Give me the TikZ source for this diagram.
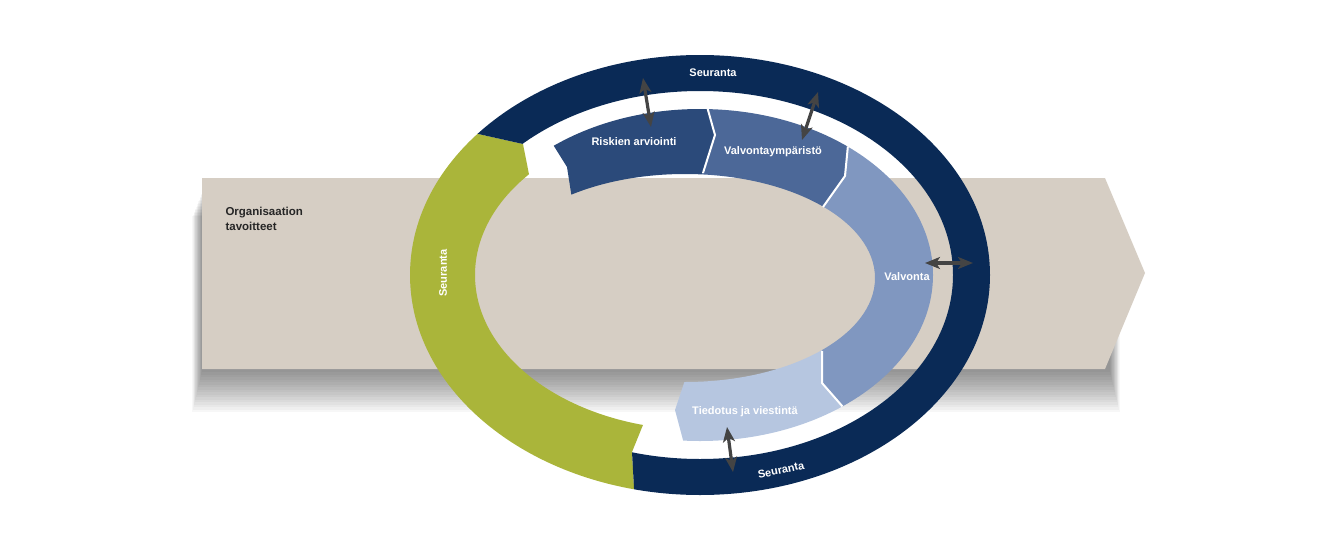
\documentclass[tikz,border=0pt]{standalone}
\usepackage{fontspec}
\setmainfont{Liberation Sans}
\usetikzlibrary{arrows.meta}

\definecolor{navy}{RGB}{10,42,86}
\definecolor{ringgreen}{RGB}{170,181,58}
\definecolor{sand}{RGB}{214,206,196}
\definecolor{riskblue}{RGB}{43,74,122}
\definecolor{envblue}{RGB}{76,104,152}
\definecolor{ctrlblue}{RGB}{128,151,192}
\definecolor{infoblue}{RGB}{182,198,224}
\definecolor{arrowgray}{RGB}{68,68,68}

\tikzset{
  band/.style={insert path={(c) ellipse[x radius=233,y radius=166]
                            (h) ellipse[x radius=190,y radius=104]}},
  lbl/.style={text=white,font=\bfseries\fontsize{11}{13}\selectfont},
  link/.style={<->,draw=arrowgray,line width=3.2pt},
  sep/.style={white,line width=2pt}
}

\begin{document}
\begin{tikzpicture}[x=1pt,y=-1pt,>={Stealth[length=15pt,width=12pt,inset=4pt]}]
\useasboundingbox (0,0) rectangle (1331,554);
\coordinate (c) at (700,275);
\coordinate (h) at (685,278);

% soft shadow under the goal arrow
\foreach \s in {0,...,16}
  \fill[black,opacity=.03] (202-0.6*\s,192+1.5*\s) rectangle (1110+0.6*\s,372+2.5*\s);
\fill[sand] (202,178) -- (1105,178) -- (1145,273) -- (1105,369) -- (202,369) -- cycle;
\node[font=\bfseries\fontsize{11.5}{15}\selectfont,align=left,anchor=west,text=black!85]
  (goal) at (222,218.5) {Organisaation\\tavoitteet};

% green part of the monitoring ring
\begin{scope}
\clip (380,112) -- (523,144) -- (540,230) -- (660,383) -- (632,452) -- (638,560)
      -- (300,560) -- (300,112) -- cycle;
\fill[ringgreen,even odd rule] (c) ellipse[x radius=290,y radius=220]
                               (c) ellipse[x radius=225,y radius=155];
\end{scope}

% dark part of the monitoring ring
\begin{scope}
\clip (380,112) -- (523,144) -- (540,230) -- (660,383) -- (632,452) -- (638,560)
      -- (1100,560) -- (1100,0) -- (380,0) -- cycle;
\fill[navy,even odd rule] (c) ellipse[x radius=290,y radius=220]
                          (c) ellipse[x radius=253,y radius=184];
\end{scope}

% inner process segments
\begin{scope}
\clip (537,119) -- (567,167) -- (577,231) -- (691,209) -- (715,135) -- (701,85) -- cycle;
\fill[riskblue,even odd rule,band];
\end{scope}
\begin{scope}
\clip (701,85) -- (715,135) -- (691,209) -- (811,224) -- (845,176) -- (851,114) -- cycle;
\fill[envblue,even odd rule,band];
\end{scope}
\begin{scope}
\clip (851,114) -- (845,176) -- (811,224) -- (822,317) -- (822,383) -- (864,431)
      -- (1000,431) -- (1000,90) -- cycle;
\fill[ctrlblue,even odd rule,band];
\end{scope}
\begin{scope}
\clip (822,317) -- (822,383) -- (864,431) -- (691,470) -- (675,410) -- (695,350) -- cycle;
\fill[infoblue,even odd rule,band];
\end{scope}
\begin{scope}
\clip (c) ellipse[x radius=233,y radius=166];
\draw[sep] (701,85) -- (715,135) -- (703,173);
\draw[sep] (851,114) -- (845,176) -- (823,207);
\draw[sep] (822,351) -- (822,383) -- (864,431);
\end{scope}

% labels
\node[lbl] (mtop) at (713,73) {Seuranta};
\node[lbl,rotate=90] (mleft) at (443,273) {Seuranta};
\node[lbl,rotate=12] (mbot) at (781,470) {Seuranta};
\node[lbl] (risk) at (634,142) {Riskien arviointi};
\node[lbl] (env) at (773,152) {Valvontaympäristö};
\node[lbl] (ctrl) at (907,277) {Valvonta};
\node[lbl] (info) at (745,412) {Tiedotus ja viestintä};

% links between ring and segments
\coordinate (a1) at (643,78);  \coordinate (b1) at (651,127);
\coordinate (a2) at (818,92);  \coordinate (b2) at (802,140);
\coordinate (a3) at (925,263); \coordinate (b3) at (973,263);
\coordinate (a4) at (727,427); \coordinate (b4) at (733,472);
\draw[link] (a1) -- (b1);
\draw[link] (a2) -- (b2);
\draw[link] (a3) -- (b3);
\draw[link] (a4) -- (b4);
\end{tikzpicture}
\end{document}
